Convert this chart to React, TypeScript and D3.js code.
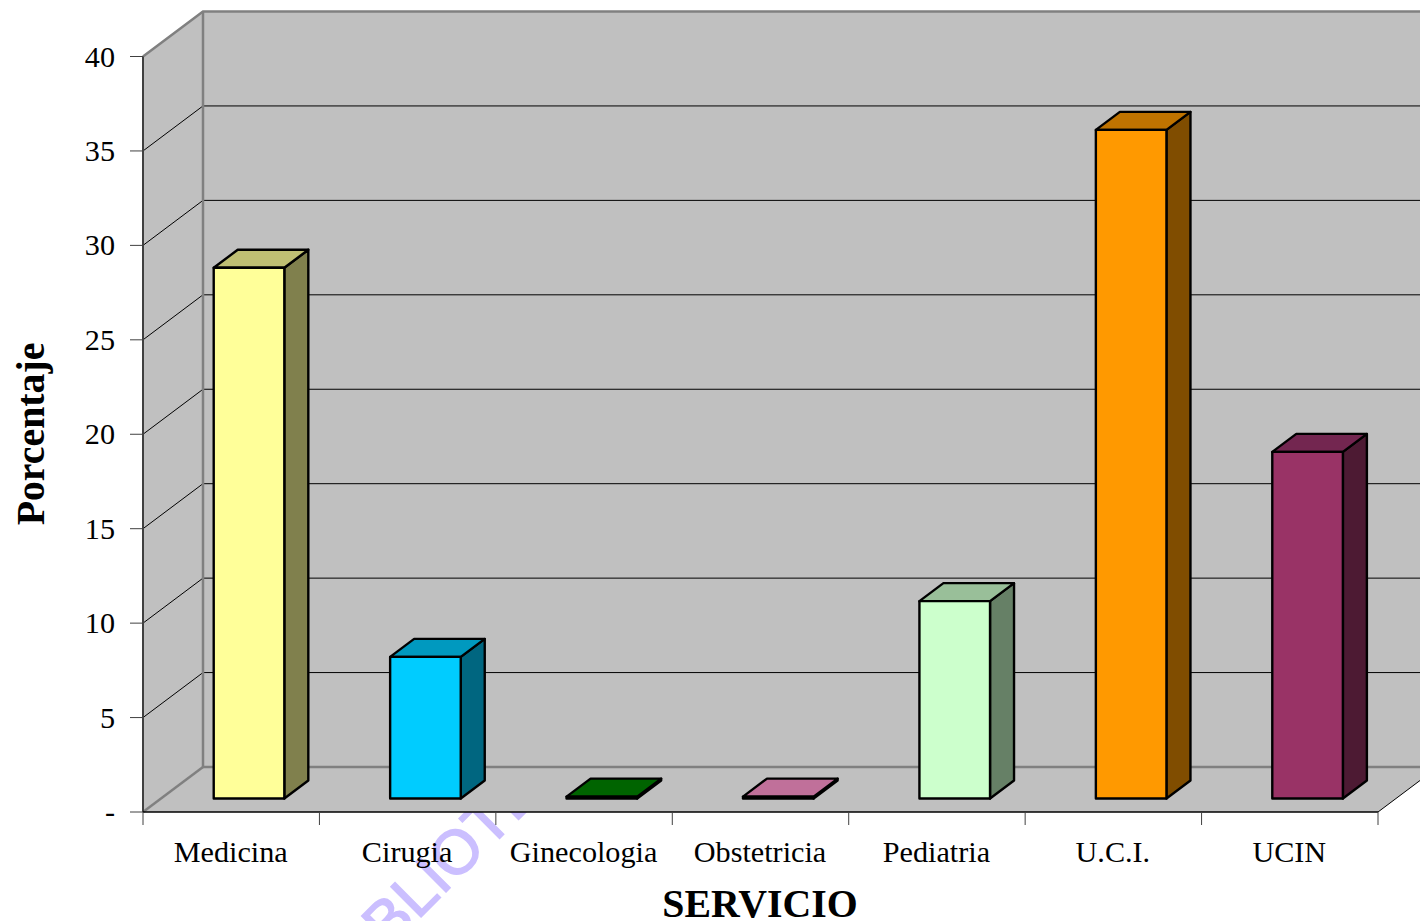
import React from "react";
import * as d3 from "d3";

const categories = ["Medicina", "Cirugia", "Ginecologia", "Obstetricia", "Pediatria", "U.C.I.", "UCIN"];
const values = [28.1, 7.5, 0.1, 0.1, 10.45, 35.4, 18.35];
const frontColors = ["#ffff99", "#00ccff", "#006400", "#c0709a", "#ccffcc", "#ff9900", "#993366"];
const topColors = ["#bfbf73", "#0099bf", "#006400", "#c0709a", "#99bf99", "#bf7300", "#732650"];
const sideColors = ["#80804d", "#006680", "#003200", "#604d66", "#668066", "#804d00", "#4d1a33"];
const yTicks = [0, 5, 10, 15, 20, 25, 30, 35, 40];

const W = 1420;
const H = 921;
const DEPTH_X = 60;
const DEPTH_Y = -45;
const BAR_INSET_X = 17.8;
const BAR_INSET_Y = -13.5;
const BAR_DEPTH_X = 24;
const BAR_DEPTH_Y = -18;
const BAR_WIDTH = 70.6;
const SERIF = "'Liberation Serif', serif";

const y = d3.scaleLinear().domain([0, 40]).range([812, 56.5]);
const x = d3.scaleBand<string>().domain(categories).range([143, 1378]);
const barH = (v: number) => y(0) - y(v);

const poly = (pts: [number, number][]) => (d3.line()(pts) ?? "") + "Z";

export default function App() {
  const x0 = x.range()[0];
  const x1 = x.range()[1];
  const yB = y(0);
  const yT = y(40);
  const edges = [...categories.map((c) => x(c) as number), x1];

  return (
    <svg
      width={W}
      height={H}
      viewBox={`0 0 ${W} ${H}`}
      style={{ position: "absolute", left: 0, top: 0, background: "#fff" }}
    >
      {/* stamp printed across the page, underneath the plot */}
      <text
        x={476}
        y={862}
        transform="rotate(-45 476 862)"
        textAnchor="middle"
        fontFamily="'Liberation Sans', sans-serif"
        fontSize={62}
        fill="#cbbfff"
        stroke="#cbbfff"
        strokeWidth={1.5}
      >
        BIBLIOTECA
      </text>

      {/* side wall, back wall and floor */}
      <path
        d={poly([[x0, yT], [x0 + DEPTH_X, yT + DEPTH_Y], [x0 + DEPTH_X, yB + DEPTH_Y], [x0, yB]])}
        fill="#c0c0c0"
      />
      <path
        d={poly([[x0 + DEPTH_X, yT + DEPTH_Y], [x1 + DEPTH_X, yT + DEPTH_Y], [x1 + DEPTH_X, yB + DEPTH_Y], [x0 + DEPTH_X, yB + DEPTH_Y]])}
        fill="#c0c0c0"
      />
      <path
        d={poly([[x0, yB], [x0 + DEPTH_X, yB + DEPTH_Y], [x1 + DEPTH_X, yB + DEPTH_Y], [x1, yB]])}
        fill="#c0c0c0"
      />

      {/* gridlines on both walls */}
      {yTicks.slice(1, -1).map((t) => (
        <path
          key={t}
          d={d3.line()([[x0, y(t)], [x0 + DEPTH_X, y(t) + DEPTH_Y], [x1 + DEPTH_X, y(t) + DEPTH_Y]]) ?? ""}
          fill="none"
          stroke="#000"
          strokeWidth={1}
        />
      ))}

      {/* wall outlines */}
      <path
        d={d3.line()([[x0, yT], [x0 + DEPTH_X, yT + DEPTH_Y], [x1 + DEPTH_X, yT + DEPTH_Y]]) ?? ""}
        fill="none"
        stroke="#808080"
        strokeWidth={2.5}
      />
      <path
        d={d3.line()([[x0 + DEPTH_X, yT + DEPTH_Y], [x0 + DEPTH_X, yB + DEPTH_Y], [x1 + DEPTH_X, yB + DEPTH_Y]]) ?? ""}
        fill="none"
        stroke="#808080"
        strokeWidth={2.5}
      />
      <line x1={x0} y1={yB} x2={x0 + DEPTH_X} y2={yB + DEPTH_Y} stroke="#808080" strokeWidth={2.5} />
      <line x1={x1} y1={yB} x2={x1 + DEPTH_X} y2={yB + DEPTH_Y} stroke="#000" strokeWidth={1} />

      {/* value axis */}
      <line x1={x0} y1={yT} x2={x0} y2={yB} stroke="#404040" strokeWidth={2} />
      {yTicks.map((t) => (
        <g key={t}>
          <line x1={x0 - 13} y1={y(t)} x2={x0} y2={y(t)} stroke="#404040" strokeWidth={1} />
          <text x={115} y={y(t) + 10} textAnchor="end" fontFamily={SERIF} fontSize={30.2} fill="#000">
            {t === 0 ? "-" : t}
          </text>
        </g>
      ))}

      {/* category axis */}
      <line x1={x0} y1={yB} x2={x1} y2={yB} stroke="#000" strokeWidth={1.5} />
      {edges.map((e) => (
        <line key={e} x1={e} y1={yB} x2={e} y2={yB + 13} stroke="#404040" strokeWidth={1} />
      ))}
      {categories.map((c) => (
        <text
          key={c}
          x={(x(c) as number) + x.bandwidth() / 2 - 0.5}
          y={862}
          textAnchor="middle"
          fontFamily={SERIF}
          fontSize={30.2}
          fill="#000"
        >
          {c}
        </text>
      ))}

      {/* bars */}
      {categories.map((c, i) => {
        const left = (x(c) as number) + x.bandwidth() / 2 + BAR_INSET_X - BAR_WIDTH / 2;
        const right = left + BAR_WIDTH;
        const bottom = yB + BAR_INSET_Y;
        const top = bottom - barH(values[i]);
        return (
          <g key={c} stroke="#000" strokeWidth={2.4} strokeLinejoin="round">
            <path
              d={poly([[right, bottom], [right + BAR_DEPTH_X, bottom + BAR_DEPTH_Y], [right + BAR_DEPTH_X, top + BAR_DEPTH_Y], [right, top]])}
              fill={sideColors[i]}
            />
            <path
              d={poly([[left, top], [left + BAR_DEPTH_X, top + BAR_DEPTH_Y], [right + BAR_DEPTH_X, top + BAR_DEPTH_Y], [right, top]])}
              fill={topColors[i]}
            />
            <path d={poly([[left, top], [right, top], [right, bottom], [left, bottom]])} fill={frontColors[i]} />
          </g>
        );
      })}

      {/* axis titles */}
      <text
        x={760}
        y={917}
        textAnchor="middle"
        fontFamily={SERIF}
        fontWeight="bold"
        fontSize={39.8}
        fill="#000"
      >
        SERVICIO
      </text>
      <text
        transform="translate(44 434) rotate(-90)"
        textAnchor="middle"
        fontFamily={SERIF}
        fontWeight="bold"
        fontSize={39.8}
        fill="#000"
      >
        Porcentaje
      </text>
    </svg>
  );
}
